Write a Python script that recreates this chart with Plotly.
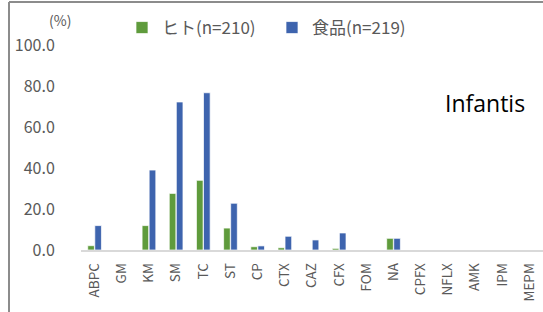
import plotly.graph_objects as go

categories = ["ABPC", "GM", "KM", "SM", "TC", "ST", "CP", "CTX", "CAZ", "CFX",
              "FOM", "NA", "CPFX", "NFLX", "AMK", "IPM", "MEPM"]
human_vals = [2.1, 0, 11.9, 27.6, 34.0, 10.7, 1.6, 1.1, 0, 0.8, 0, 5.7, 0, 0, 0, 0, 0]
food_vals = [11.9, 0, 39.0, 72.2, 76.7, 22.8, 2.0, 6.7, 4.9, 8.3, 0, 5.7, 0, 0, 0, 0, 0]
series_names = ["ヒト(n=210)", "食品(n=219)"]
y_ticks = [0, 20, 40, 60, 80, 100]

FONT = "Noto Sans CJK JP, Noto Sans, sans-serif"
GRAY = "#595959"

L, T, B, R = 81, 45, 62, 0
W, H = 543, 312
pw = W - L - R
ph = H - T - B

def px_x(x):
    return (x - L) / pw

def px_y(y):
    return (H - B - y) / ph

fig = go.Figure()
fig.add_trace(go.Bar(x=categories, y=human_vals, name=series_names[0],
                     marker=dict(color="#5f9b3c", line=dict(color="rgba(255,255,255,0.7)", width=1))))
fig.add_trace(go.Bar(x=categories, y=food_vals, name=series_names[1],
                     marker=dict(color="#3e64ae", line=dict(color="rgba(255,255,255,0.7)", width=1))))

fig.update_layout(
    width=W, height=H,
    margin=dict(l=L, r=R, t=T, b=B, autoexpand=False),
    paper_bgcolor="white", plot_bgcolor="white",
    barmode="group", bargap=0.48, bargroupgap=0.06,
    font=dict(family=FONT, color=GRAY, size=14),
    legend=dict(orientation="h", x=px_x(122), y=px_y(28), xanchor="left", yanchor="middle",
                font=dict(size=17, color=GRAY), itemwidth=30, bgcolor="rgba(0,0,0,0)",
                entrywidth=105, entrywidthmode="pixels"),
    xaxis=dict(tickangle=-90, tickfont=dict(size=13.5, color=GRAY), showline=True,
               linecolor="#d9d9d9", linewidth=1.5, ticks="outside", ticklen=6,
               tickcolor="rgba(0,0,0,0)", showgrid=False, range=[-0.5, 16.5],
               automargin=False),
    yaxis=dict(range=[0, 100], tickvals=y_ticks, tickformat=".1f", showgrid=False,
               zeroline=False, showline=False, tickfont=dict(size=16, color=GRAY),
               ticks="outside", ticklen=22, tickcolor="rgba(0,0,0,0)", automargin=False),
    showlegend=True,
)

fig.add_annotation(text="(%)", x=px_x(60), y=px_y(20), xref="paper", yref="paper",
                   xanchor="center", yanchor="middle",
                   showarrow=False, font=dict(size=14, color=GRAY))
fig.add_annotation(text="Infantis", x=px_x(485), y=px_y(103), xref="paper", yref="paper",
                   xanchor="center", yanchor="middle",
                   showarrow=False, font=dict(size=23, color="black", family="Open Sans, sans-serif"))

fig.add_shape(type="line", xref="paper", yref="paper", x0=px_x(9), x1=px_x(9),
              y0=px_y(2), y1=px_y(320), line=dict(color="#8c8c8c", width=2))
fig.add_shape(type="line", xref="paper", yref="paper", x0=px_x(9), x1=px_x(560),
              y0=px_y(2), y1=px_y(2), line=dict(color="#8c8c8c", width=2))

fig.write_html("out.html", config={"displayModeBar": False},
               post_script="document.body.style.margin='0';document.body.style.overflow='hidden';")
